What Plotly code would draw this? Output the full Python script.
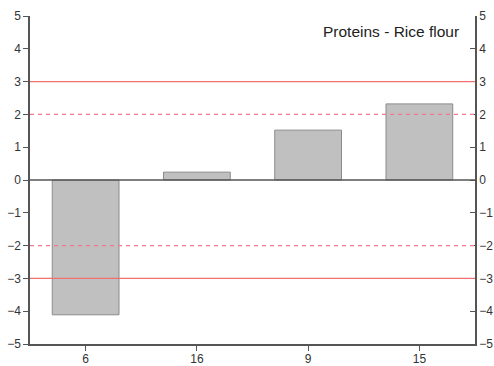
import plotly.graph_objects as go

categories = ["6", "16", "9", "15"]
values = [-4.11, 0.24, 1.52, 2.32]
solid_limits = [3, -3]
dashed_limits = [2, -2]
y_ticks = [-5, -4, -3, -2, -1, 0, 1, 2, 3, 4, 5]
title_text = "Proteins - Rice flour"

axis_col = "#555555"
font = dict(family="Liberation Sans, Arial, sans-serif", size=12, color="#333333")

fig = go.Figure()
fig.add_trace(go.Bar(
    x=categories, y=values, width=0.6,
    marker=dict(color="#c0c0c0", line=dict(color="#8a8a8a", width=1)),
    showlegend=False,
))
# invisible trace to activate the right axis
fig.add_trace(go.Scatter(x=categories, y=values, yaxis="y2", mode="markers",
                         marker=dict(opacity=0), showlegend=False, hoverinfo="skip"))

for v in solid_limits:
    fig.add_hline(y=v, line=dict(color="#f07070", width=1.3), layer="above")
for v in dashed_limits:
    fig.add_hline(y=v, line=dict(color="#f07890", width=1.3, dash="4px,4px"), layer="above")
fig.add_hline(y=0, line=dict(color=axis_col, width=1.3), layer="above")

fig.update_layout(
    width=494, height=366,
    margin=dict(l=30, r=19, t=16, b=22, autoexpand=False),
    plot_bgcolor="white", paper_bgcolor="white",
    font=font,
    xaxis=dict(
        type="category", range=[-0.5, 3.5], automargin=False,
        showline=True, linecolor=axis_col, linewidth=1.5,
        ticks="outside", tickcolor=axis_col, ticklen=5, tickwidth=1.3,
        ticklabelstandoff=-2,
        showgrid=False, zeroline=False,
    ),
    yaxis=dict(
        range=[-5, 5], tickvals=y_ticks, automargin=False,
        showline=True, linecolor=axis_col, linewidth=1.5,
        ticks="outside", tickcolor=axis_col, ticklen=5, tickwidth=1.3,
        showgrid=False, zeroline=False,
    ),
    yaxis2=dict(
        range=[-5, 5], tickvals=y_ticks, overlaying="y", side="right", automargin=False,
        showline=True, linecolor=axis_col, linewidth=1.5,
        ticks="inside", tickcolor=axis_col, ticklen=5, tickwidth=1.3,
        showgrid=False, zeroline=False,
    ),
    annotations=[dict(
        text=title_text, xref="paper", yref="paper",
        x=0.968, y=0.954, xanchor="right", yanchor="middle",
        showarrow=False, font=dict(family="Liberation Sans, Arial, sans-serif", size=15.5, color="#222222"),
    )],
)

fig.write_html(
    "out.html",
    config={"displayModeBar": False},
    post_script="document.body.style.margin='0';document.body.style.padding='0';document.body.style.overflow='hidden';",
)
